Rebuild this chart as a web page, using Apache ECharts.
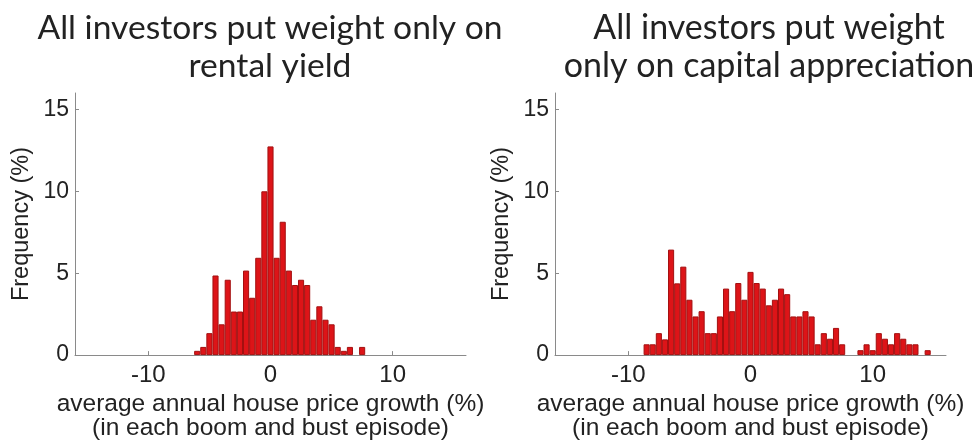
<!DOCTYPE html>
<html>
<head>
<meta charset="utf-8">
<script src="https://cdn.jsdelivr.net/npm/echarts@6/dist/echarts.min.js"></script>
<style>
html,body{margin:0;padding:0;background:#fff;}
#chart{width:979px;height:446px;}
</style>
</head>
<body>
<div id="chart"></div>
<script>
// Bin centres (% growth) and frequencies (%)
const leftBins = [-6, -5.5, -5, -4.5, -4, -3.5, -3, -2.5, -2, -1.5, -1, -0.5, 0, 0.5, 1, 1.5, 2, 2.5, 3, 3.5, 4, 4.5, 5, 5.5, 6, 6.5, 7.5];
const leftFreq = [0.26, 0.5, 1.34, 4.86, 1.88, 4.6, 2.66, 2.66, 5.16, 3.5, 5.94, 10.0, 12.74, 5.94, 8.14, 5.16, 4.28, 4.6, 4.28, 2.16, 2.98, 2.16, 1.88, 0.5, 0.26, 0.5, 0.5];

const rightBins = [-8.5, -8, -7.5, -7, -6.5, -6, -5.5, -5, -4.5, -4, -3.5, -3, -2.5, -2, -1.5, -1, -0.5, 0, 0.5, 1, 1.5, 2, 2.5, 3, 3.5, 4, 4.5, 5, 5.5, 6, 6.5, 7, 7.5, 9, 9.5, 10, 10.5, 11, 11.5, 12, 12.5, 13, 13.5, 14.5];
const rightFreq = [0.66, 0.66, 1.34, 0.96, 6.44, 4.38, 5.4, 3.38, 2.36, 2.68, 1.34, 1.34, 2.36, 4.06, 2.68, 4.4, 3.38, 5.08, 4.4, 4.06, 3.04, 3.38, 4.06, 3.72, 2.36, 2.36, 2.68, 2.36, 0.66, 1.34, 1.0, 1.66, 0.66, 0.3, 0.66, 0.3, 1.34, 1.0, 0.66, 1.34, 1.0, 0.66, 0.66, 0.3];

const xTicks = [-10, 0, 10];
const yTicks = [0, 5, 10, 15];

const titles = ["All investors put weight only on\nrental yield", "All investors put weight\nonly on capital appreciation"];
const yName = "Frequency (%)";
const xName = "average annual house price growth (%)\n(in each boom and bust episode)";

const chart = echarts.init(document.getElementById('chart'));
const axisColor = '#8a8a8a';
const sansFont = "'Liberation Sans', Arial, sans-serif";

function xAxis(gi) {
  return {
    type: 'value', gridIndex: gi, min: -16, max: 16,
    axisLine: { show: true, onZero: false, lineStyle: { color: axisColor, width: 1 } },
    axisTick: { show: true, inside: true, length: 4, customValues: xTicks, lineStyle: { color: axisColor } },
    axisLabel: { customValues: xTicks, margin: 8, fontFamily: sansFont, fontSize: 24, color: '#222' },
    splitLine: { show: false },
    name: xName, nameLocation: 'middle', nameGap: 29,
    nameTextStyle: { fontFamily: sansFont, fontSize: 24.5, color: '#222', lineHeight: 24 }
  };
}
function yAxis(gi) {
  return {
    type: 'value', gridIndex: gi, min: 0, max: 16,
    axisLine: { show: true, onZero: false, lineStyle: { color: axisColor, width: 1 } },
    axisTick: { show: true, inside: true, length: 4, customValues: yTicks, lineStyle: { color: axisColor } },
    axisLabel: { customValues: yTicks, margin: 6, fontFamily: sansFont, fontSize: 23, color: '#222' },
    splitLine: { show: false },
    name: yName, nameLocation: 'middle', nameRotate: 90, nameGap: 41,
    nameTextStyle: { fontFamily: sansFont, fontSize: 23.5, color: '#222' }
  };
}
function barSeries(gi, bins, freq) {
  return {
    type: 'bar', xAxisIndex: gi, yAxisIndex: gi,
    data: bins.map((b, i) => [b, freq[i]]),
    barWidth: '100%',
    itemStyle: { color: '#dd1418', borderColor: '#a31010', borderWidth: 1 },
    silent: true, animation: false
  };
}

chart.setOption({
  animation: false,
  title: [
    { text: titles[0], left: 265, top: 4, textAlign: 'center',
      textStyle: { fontFamily: 'Lato, sans-serif', fontWeight: 'normal', fontSize: 33.6, color: '#222', lineHeight: 38 } },
    { text: titles[1], left: 764, top: 4, textAlign: 'center',
      textStyle: { fontFamily: 'Lato, sans-serif', fontWeight: 'normal', fontSize: 34, color: '#222', lineHeight: 38 } }
  ],
  grid: [
    { left: 75, width: 391, top: 93, bottom: 86 },
    { left: 555, width: 391, top: 93, bottom: 86 }
  ],
  xAxis: [xAxis(0), xAxis(1)],
  yAxis: [yAxis(0), yAxis(1)],
  series: [barSeries(0, leftBins, leftFreq), barSeries(1, rightBins, rightFreq)]
});
</script>
</body>
</html>
